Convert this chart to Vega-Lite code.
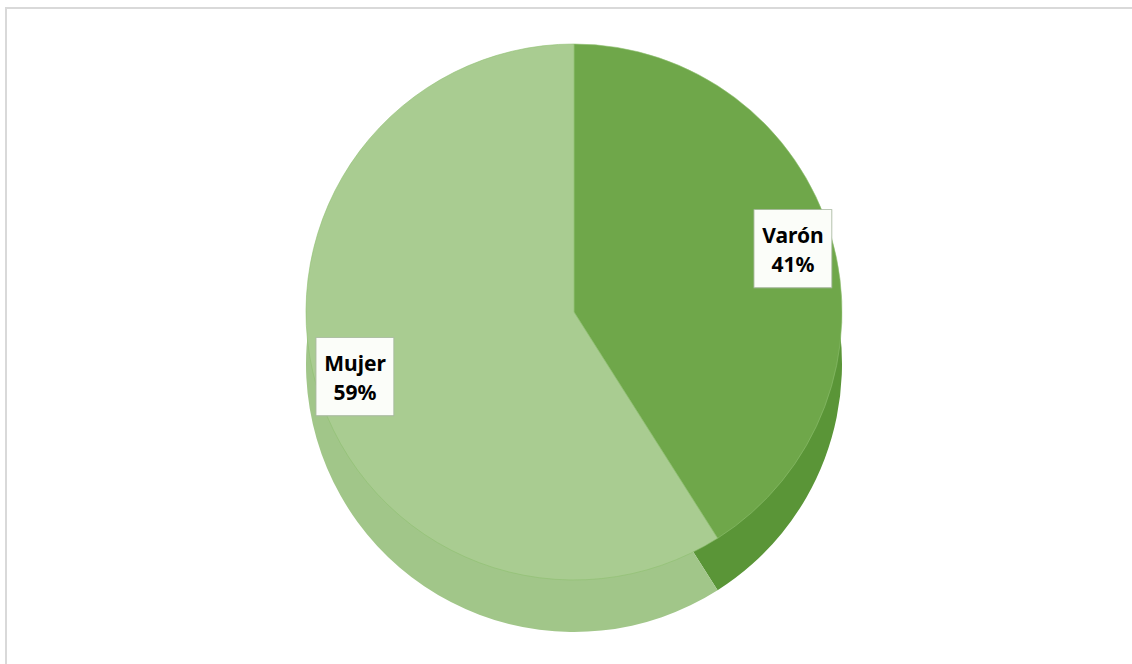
{
  "$schema": "https://vega.github.io/schema/vega-lite/v6.json",
  "width": 1132,
  "height": 664,
  "autosize": {"type": "fit", "contains": "padding"},
  "padding": {"left": 6, "top": 8, "right": -10, "bottom": -10},
  "background": "#ffffff",
  "view": {"stroke": "#d9d9d9", "strokeWidth": 2},
  "data": {
    "values": [
      {"sexo": "Varón", "pct": 41, "label": "Varón\n41%"},
      {"sexo": "Mujer", "pct": 59, "label": "Mujer\n59%"}
    ]
  },
  "encoding": {
    "theta": {"field": "pct", "type": "quantitative", "stack": true},
    "order": {"field": "pct", "type": "quantitative", "sort": "ascending"}
  },
  "layer": [
    {
      "mark": {"type": "arc", "outerRadius": 268, "yOffset": 23},
      "encoding": {
        "color": {
          "field": "sexo", "type": "nominal", "legend": null,
          "scale": {"domain": ["Varón", "Mujer"], "range": ["#5a9537", "#a1c689"]}
        }
      }
    },
    {
      "mark": {"type": "arc", "outerRadius": 268, "yOffset": -29, "stroke": "#8fbf70", "strokeWidth": 0.6},
      "encoding": {
        "color": {
          "field": "sexo", "type": "nominal", "legend": null,
          "scale": {"domain": ["Varón", "Mujer"], "range": ["#6fa74a", "#a9cc91"]}
        }
      }
    },
    {
      "mark": {"type": "text", "radius": 228, "yOffset": -29, "dy": -4, "text": "■", "font": "DejaVu Sans", "fontSize": 102, "fill": "#fbfdf9", "stroke": "#a8b8a0", "strokeWidth": 0.8, "align": "center", "baseline": "middle"},
      "encoding": {}
    },
    {
      "mark": {"type": "text", "radius": 228, "yOffset": -29, "dy": -11, "font": "Noto Sans", "fontSize": 21, "fontWeight": "bold", "fill": "#000000", "lineBreak": "\n", "lineHeight": 29, "align": "center", "baseline": "middle"},
      "encoding": {"text": {"field": "label"}}
    }
  ],
  "resolve": {"scale": {"color": "independent"}}
}
